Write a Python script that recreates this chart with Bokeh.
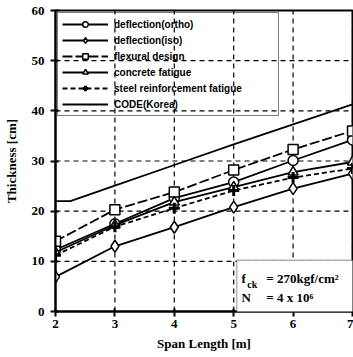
from bokeh.plotting import figure
from bokeh.models import Range1d, FixedTicker, BoxAnnotation, Label
from bokeh.embed import file_html
from bokeh.resources import INLINE

# ---- data ----
span = [2, 3, 4, 5, 6, 7]
defl_ortho = [12.3, 17.5, 22.6, 25.8, 30.1, 34.2]
defl_iso = [6.9, 13.0, 16.8, 20.8, 24.5, 27.5]
flexural = [14.0, 20.3, 23.8, 28.2, 32.3, 36.0]
conc_fatigue = [11.8, 17.2, 21.8, 24.8, 27.8, 29.8]
steel_fatigue = [11.2, 16.9, 20.6, 24.1, 26.7, 28.5]
code_x = [2, 2.25, 3, 4, 5, 6, 7]
code_y = [22.0, 22.0, 25.1, 29.2, 33.3, 37.3, 41.3]
x_ticks = [2, 3, 4, 5, 6, 7]
y_ticks = [0, 10, 20, 30, 40, 50, 60]

SERIF = "Liberation Serif"
SANS = "Liberation Sans"

p = figure(width=353, height=355, output_backend="svg", toolbar_location=None,
           x_range=Range1d(x_ticks[0], x_ticks[-1]), y_range=Range1d(y_ticks[0], y_ticks[-1]),
           min_border_left=54, min_border_right=1, min_border_top=10, min_border_bottom=44)

p.outline_line_color = "black"
p.outline_line_width = 2
p.background_fill_color = "white"

for ax in (p.xaxis[0], p.yaxis[0]):
    ax.axis_line_width = 2
    ax.axis_line_color = "black"
    ax.major_tick_line_width = 2
    ax.major_tick_line_color = "black"
    ax.major_tick_out = 5
    ax.major_tick_in = 3
    ax.minor_tick_line_color = None
    ax.major_label_text_font = SERIF
    ax.major_label_text_font_style = "bold"
    ax.major_label_text_font_size = "13px"
    ax.major_label_text_color = "black"
    ax.axis_label_text_font = SERIF
    ax.axis_label_text_font_style = "bold"
    ax.axis_label_text_font_size = "13px"
    ax.axis_label_text_color = "black"

p.xaxis.ticker = FixedTicker(ticks=x_ticks)
p.yaxis.ticker = FixedTicker(ticks=y_ticks)
p.xaxis.axis_label = "Span Length [m]"
p.yaxis.axis_label = "Thickness [cm]"
p.xaxis.major_label_standoff = 3
p.yaxis.major_label_standoff = 6
p.xaxis.axis_label_standoff = 5
p.yaxis.axis_label_standoff = 10

# dashed grid, drawn from the tick lists
p.xgrid.visible = False
p.ygrid.visible = False
gx = x_ticks[1:]
gy = y_ticks[1:]
p.segment(x0=gx, y0=[y_ticks[0]] * len(gx), x1=gx, y1=[y_ticks[-1]] * len(gx),
          line_color="black", line_width=1.2, line_dash="5 4")
p.segment(x0=[x_ticks[0]] * len(gy), y0=gy, x1=[x_ticks[-1]] * len(gy), y1=gy,
          line_color="black", line_width=1.2, line_dash="5 4")

LW = 1.8
MS = 10

# CODE(Korea)
p.line(code_x, code_y, line_color="black", line_width=LW, legend_label="CODE(Korea)")

# deflection(ortho)
p.line(span, defl_ortho, line_color="black", line_width=LW, legend_label="deflection(ortho)")
p.scatter(span, defl_ortho, marker="circle", size=MS, fill_color="white", line_color="black",
          line_width=1.5, legend_label="deflection(ortho)")

# deflection(iso)
p.line(span, defl_iso, line_color="black", line_width=LW, legend_label="deflection(iso)")
p.scatter(span, defl_iso, marker="diamond", size=MS + 2, fill_color="white", line_color="black",
          line_width=1.5, legend_label="deflection(iso)")

# flexural design
p.line(span, flexural, line_color="black", line_width=LW, line_dash="10 3", legend_label="flexural design")
p.scatter(span, flexural, marker="square", size=MS, fill_color="white", line_color="black",
          line_width=1.5, legend_label="flexural design")

# concrete fatigue
p.line(span, conc_fatigue, line_color="black", line_width=LW, legend_label="concrete fatigue")
p.scatter(span, conc_fatigue, marker="triangle", size=MS, fill_color="white", line_color="black",
          line_width=1.5, legend_label="concrete fatigue")

# steel reinforcement fatigue
p.line(span, steel_fatigue, line_color="black", line_width=LW, line_dash="5 3",
       legend_label="steel reinforcement fatigue")
p.scatter(span, steel_fatigue, marker="cross", size=MS + 1, line_color="black",
          line_width=3, legend_label="steel reinforcement fatigue")

leg = p.legend[0]
order = ["deflection(ortho)", "deflection(iso)", "flexural design", "concrete fatigue",
         "steel reinforcement fatigue", "CODE(Korea)"]
leg.items = sorted(leg.items, key=lambda it: order.index(it.label.value))
leg.location = "top_left"
leg.margin = 2
leg.padding = 4
leg.spacing = 2
leg.glyph_width = 46
leg.glyph_height = 14
leg.label_height = 14
leg.label_width = 160
leg.label_standoff = 6
leg.label_text_font = SANS
leg.label_text_font_style = "bold"
leg.label_text_font_size = "10px"
leg.label_text_color = "black"
leg.border_line_color = "black"
leg.border_line_width = 1.5
leg.background_fill_alpha = 0

# annotation box
box = BoxAnnotation(left=5.05, right=7.1, bottom=-1, top=10.2, fill_color="white", fill_alpha=1,
                    line_color="black", line_width=1.5)
p.add_layout(box)

tf = dict(text_font=SERIF, text_font_style="bold", text_color="black")
p.add_layout(Label(x=5.13, y=5.0, text="f", text_font_size="13px", **tf))
p.add_layout(Label(x=5.23, y=4.2, text="ck", text_font_size="10px", **tf))
p.add_layout(Label(x=5.55, y=5.0, text="= 270kgf/cm²", text_font_size="13px", **tf))
p.add_layout(Label(x=5.13, y=1.3, text="N", text_font_size="13px", **tf))
p.add_layout(Label(x=5.55, y=1.3, text="= 4 x 10⁶", text_font_size="13px", **tf))

open("out.html", "w").write(file_html(p, INLINE))
